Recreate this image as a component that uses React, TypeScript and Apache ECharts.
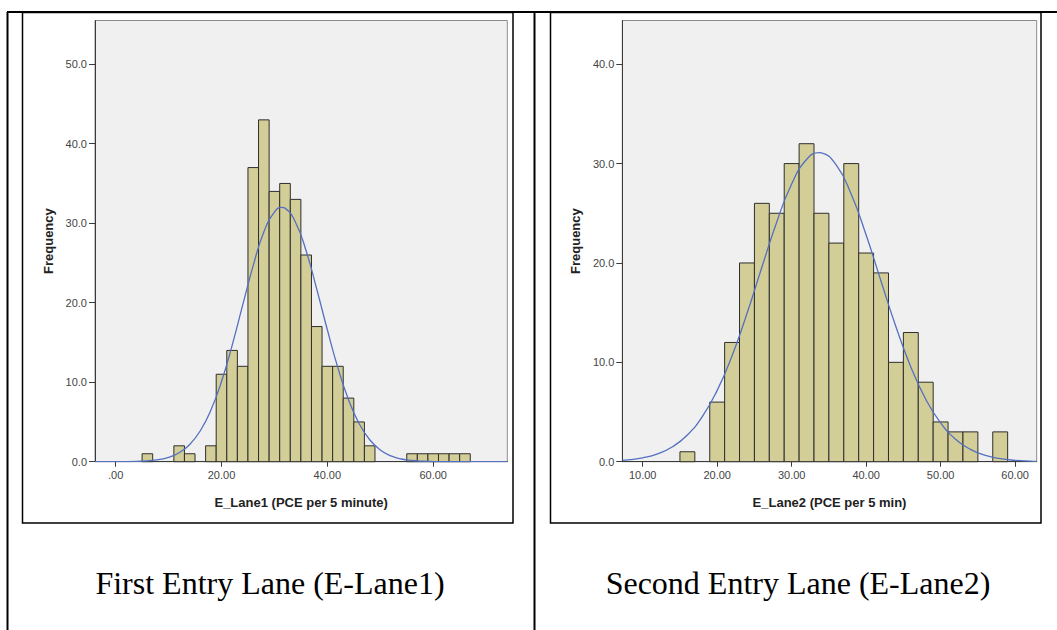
import React, { useEffect, useRef } from "react";
import * as echarts from "echarts";

// ---------- Data ----------
const BIN_WIDTH = 2;

// First entry lane (E_Lane1)
const lane1BinStarts = [5, 11, 13, 17, 19, 21, 23, 25, 27, 29, 31, 33, 35, 37, 39, 41, 43, 45, 47, 55, 57, 59, 61, 63, 65];
const lane1Counts = [1, 2, 1, 2, 11, 14, 12, 37, 43, 34, 35, 33, 26, 17, 12, 12, 8, 5, 2, 1, 1, 1, 1, 1, 1];
const lane1CurveX = [-3.9, 0, 4, 8, 10, 12, 14, 16, 18, 20, 22, 24, 26, 28, 30, 31.4, 32, 34, 36, 38, 40, 42, 44, 46, 48, 50, 52, 54, 56, 58, 60, 64, 68, 74];
const lane1CurveY = [0, 0.005, 0.04, 0.25, 0.55, 1.13, 2.17, 3.89, 6.49, 10.08, 14.6, 19.7, 24.7, 28.9, 31.4, 32.0, 31.9, 30.1, 26.5, 21.7, 16.6, 11.8, 7.8, 4.8, 2.76, 1.48, 0.74, 0.34, 0.15, 0.06, 0.02, 0, 0, 0];
const lane1XTicks = [0, 20, 40, 60];
const lane1YTicks = [0, 10, 20, 30, 40, 50];
const lane1XRange = [-3.9, 74];
const lane1YMax = 55.5;
const lane1Title = "E_Lane1 (PCE per 5 minute)";
const lane1Caption = "First Entry Lane (E-Lane1)";

// Second entry lane (E_Lane2)
const lane2BinStarts = [15, 19, 21, 23, 25, 27, 29, 31, 33, 35, 37, 39, 41, 43, 45, 47, 49, 51, 53, 57];
const lane2Counts = [1, 6, 12, 20, 26, 25, 30, 32, 25, 22, 30, 21, 19, 10, 13, 8, 4, 3, 3, 3];
const lane2CurveX = [7.3, 8, 10, 12, 14, 16, 18, 20, 22, 24, 26, 28, 30, 32, 33.7, 34, 36, 38, 40, 42, 44, 46, 48, 50, 52, 54, 56, 58, 60, 62, 62.9];
const lane2CurveY = [0.13, 0.18, 0.39, 0.79, 1.5, 2.69, 4.53, 7.18, 10.67, 14.91, 19.57, 24.13, 27.95, 30.41, 31.1, 31.08, 29.84, 26.92, 22.81, 18.16, 13.58, 9.54, 6.29, 3.9, 2.27, 1.24, 0.64, 0.31, 0.14, 0.06, 0.04];
const lane2XTicks = [10, 20, 30, 40, 50, 60];
const lane2YTicks = [0, 10, 20, 30, 40];
const lane2XRange = [7.26, 62.9];
const lane2YMax = 44.4;
const lane2Title = "E_Lane2 (PCE per 5 min)";
const lane2Caption = "Second Entry Lane (E-Lane2)";

const Y_NAME = "Frequency";

// ---------- Styles ----------
const SANS = '"Liberation Sans", Arial, sans-serif';
const SERIF = '"Liberation Serif", "Times New Roman", serif';
const BAR_FILL = "#d3ce97";
const BAR_STROKE = "#2e2e2e";
const CURVE_COLOR = "#5470c0";
const PLOT_BG = "#f0f0f0";

function xFmt(v: number) {
  return v === 0 ? ".00" : v.toFixed(2);
}

function makeBins(starts: number[], counts: number[]) {
  return starts.map((s, i) => [s, s + BIN_WIDTH, counts[i]]);
}

function zip(xs: number[], ys: number[]) {
  return xs.map((x, i) => [x, ys[i]]);
}

function renderBar(params: any, api: any) {
  const x0 = api.value(0);
  const x1 = api.value(1);
  const c = api.value(2);
  const p0 = api.coord([x0, c]);
  const p1 = api.coord([x1, 0]);
  return {
    type: "rect",
    shape: { x: p0[0], y: p0[1], width: p1[0] - p0[0], height: p1[1] - p0[1] },
    style: { fill: BAR_FILL, stroke: BAR_STROKE, lineWidth: 1 },
  };
}

function xAxisCfg(gridIndex: number, range: number[], ticks: number[], name: string) {
  return {
    gridIndex,
    type: "value",
    min: range[0],
    max: range[1],
    name,
    nameLocation: "middle",
    nameGap: 34,
    nameTextStyle: { fontWeight: "bold", fontSize: 13, color: "#222", fontFamily: SANS },
    axisLine: { show: true, onZero: false, lineStyle: { color: "#3a3a3a", width: 1 } },
    axisTick: { show: true, customValues: ticks, length: 5, lineStyle: { color: "#3a3a3a" } },
    axisLabel: { customValues: ticks, formatter: xFmt, color: "#444", fontSize: 11, margin: 8, fontFamily: SANS },
    splitLine: { show: false },
  };
}

function yAxisCfg(gridIndex: number, max: number, ticks: number[]) {
  return {
    gridIndex,
    type: "value",
    min: 0,
    max,
    name: Y_NAME,
    nameLocation: "middle",
    nameRotate: 90,
    nameGap: 40,
    nameTextStyle: { fontWeight: "bold", fontSize: 13, color: "#222", fontFamily: SANS },
    axisLine: { show: true, onZero: false, lineStyle: { color: "#3a3a3a", width: 1 } },
    axisTick: { show: true, customValues: ticks, length: 6, lineStyle: { color: "#3a3a3a" } },
    axisLabel: { customValues: ticks, formatter: (v: number) => v.toFixed(1), color: "#444", fontSize: 11, margin: 8, fontFamily: SANS },
    splitLine: { show: false },
  };
}

export default function App() {
  const ref = useRef<HTMLDivElement>(null);

  useEffect(() => {
    if (!ref.current) return;
    const chart = echarts.init(ref.current, undefined, { renderer: "svg" });
    const option: any = {
      animation: false,
      backgroundColor: "#ffffff",
      grid: [
        { left: 95, top: 20.5, width: 412.3, height: 441.2, show: true, backgroundColor: PLOT_BG, borderColor: "#8c8c8c", borderWidth: 1 },
        { left: 622.3, top: 20.5, width: 414.4, height: 441.2, show: true, backgroundColor: PLOT_BG, borderColor: "#8c8c8c", borderWidth: 1 },
      ],
      xAxis: [
        xAxisCfg(0, lane1XRange, lane1XTicks, lane1Title),
        xAxisCfg(1, lane2XRange, lane2XTicks, lane2Title),
      ],
      yAxis: [yAxisCfg(0, lane1YMax, lane1YTicks), yAxisCfg(1, lane2YMax, lane2YTicks)],
      series: [
        {
          type: "custom",
          xAxisIndex: 0,
          yAxisIndex: 0,
          renderItem: renderBar,
          encode: { x: [0, 1], y: 2 },
          data: makeBins(lane1BinStarts, lane1Counts),
          z: 2,
        },
        {
          type: "line",
          xAxisIndex: 0,
          yAxisIndex: 0,
          data: zip(lane1CurveX, lane1CurveY),
          smooth: true,
          showSymbol: false,
          lineStyle: { color: CURVE_COLOR, width: 1.3 },
          z: 3,
        },
        {
          type: "custom",
          xAxisIndex: 1,
          yAxisIndex: 1,
          renderItem: renderBar,
          encode: { x: [0, 1], y: 2 },
          data: makeBins(lane2BinStarts, lane2Counts),
          z: 2,
        },
        {
          type: "line",
          xAxisIndex: 1,
          yAxisIndex: 1,
          data: zip(lane2CurveX, lane2CurveY),
          smooth: true,
          showSymbol: false,
          lineStyle: { color: CURVE_COLOR, width: 1.3 },
          z: 3,
        },
      ],
      graphic: [
        // table lines
        { type: "line", shape: { x1: 7, y1: 12, x2: 1057, y2: 12 }, style: { stroke: "#000", lineWidth: 2 }, silent: true },
        { type: "line", shape: { x1: 7.5, y1: 12, x2: 7.5, y2: 630 }, style: { stroke: "#000", lineWidth: 2 }, silent: true },
        { type: "line", shape: { x1: 534.5, y1: 12, x2: 534.5, y2: 630 }, style: { stroke: "#000", lineWidth: 2 }, silent: true },
        // image frames
        { type: "rect", shape: { x: 22.5, y: 12.5, width: 490.5, height: 510.5 }, style: { fill: "none", stroke: "#000", lineWidth: 1.5 }, silent: true },
        { type: "rect", shape: { x: 550.5, y: 12.5, width: 490.5, height: 510.5 }, style: { fill: "none", stroke: "#000", lineWidth: 1.5 }, silent: true },
        // captions
        {
          type: "text",
          x: 270,
          y: 583,
          style: { text: lane1Caption, fontFamily: SERIF, fontSize: 32, fill: "#000", textAlign: "center", textVerticalAlign: "middle" },
          silent: true,
        },
        {
          type: "text",
          x: 798,
          y: 583,
          style: { text: lane2Caption, fontFamily: SERIF, fontSize: 32, fill: "#000", textAlign: "center", textVerticalAlign: "middle" },
          silent: true,
        },
      ],
    };
    chart.setOption(option);
    return () => chart.dispose();
  }, []);

  return <div ref={ref} style={{ position: "absolute", left: 0, top: 0, width: 1057, height: 630 }} />;
}
